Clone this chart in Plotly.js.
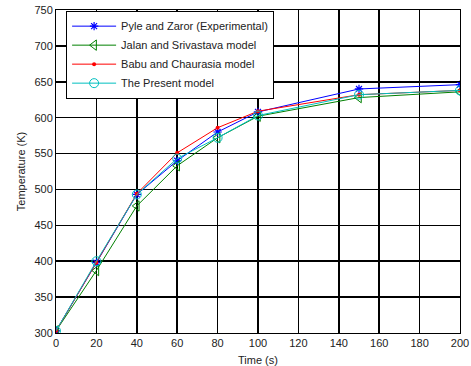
<!DOCTYPE html>
<html>
<head>
<meta charset="utf-8">
<script src="https://cdn.plot.ly/plotly-3.0.1.min.js"></script>
<style>html,body{margin:0;padding:0;background:#fff;}#chart{width:471px;height:366px;}</style>
</head>
<body>
<div id="chart"></div>
<script>
const time = [0, 20, 40, 60, 80, 100, 150, 200];
const pyleZaror = [303, 398, 493, 540, 580, 608, 640, 646];
const jalanSrivastava = [303, 387, 477, 533, 572, 602, 628, 636];
const babuChaurasia = [303, 398, 494, 551, 586, 609, 632, 638];
const presentModel = [303, 400, 493, 543, 572, 603, 632, 638];
const seriesNames = ["Pyle and Zaror (Experimental)", "Jalan and Srivastava model", "Babu and Chaurasia model", "The Present model"];
const xTicks = [0, 20, 40, 60, 80, 100, 120, 140, 160, 180, 200];
const yTicks = [300, 350, 400, 450, 500, 550, 600, 650, 700, 750];

const font = {family: "Liberation Sans, Arial, sans-serif", size: 11, color: "#222"};
const traces = [
  {x: time, y: pyleZaror, name: seriesNames[0], mode: "lines+markers",
   line: {color: "#0000FF", width: 1}, marker: {symbol: "asterisk-open", size: 7, line: {color: "#0000FF", width: 1.2}, color: "#0000FF"}},
  {x: time, y: jalanSrivastava, name: seriesNames[1], mode: "lines+markers",
   line: {color: "#008000", width: 1}, marker: {symbol: "triangle-left-open", size: 9, line: {color: "#008000", width: 1}, color: "#008000"}},
  {x: time, y: babuChaurasia, name: seriesNames[2], mode: "lines+markers",
   line: {color: "#FF0000", width: 1}, marker: {symbol: "circle", size: 4, color: "#FF0000"}},
  {x: time, y: presentModel, name: seriesNames[3], mode: "lines+markers",
   line: {color: "#00BFBF", width: 1}, marker: {symbol: "circle-open", size: 9, line: {color: "#00BFBF", width: 1}, color: "#00BFBF"}}
];

const axisCommon = {
  showline: true, mirror: "ticks", linecolor: "#000", linewidth: 1,
  ticks: "inside", ticklen: 4, tickcolor: "#000",
  showgrid: true, gridcolor: "#000", gridwidth: 1.6,
  zeroline: false, tickfont: font
};

const layout = {
  width: 471, height: 366,
  margin: {l: 56, r: 11, t: 10, b: 33},
  paper_bgcolor: "#fff", plot_bgcolor: "#fff",
  font: font,
  showlegend: true,
  legend: {x: 0.025, y: 0.998, xanchor: "left", yanchor: "top", bgcolor: "#fff",
    bordercolor: "#000", borderwidth: 1, font: {family: font.family, size: 11, color: "#222"},
    itemwidth: 44, tracegroupgap: 0},
  xaxis: Object.assign({}, axisCommon, {range: [0, 200], tickvals: xTicks,
    title: {text: "Time (s)", font: font, standoff: 8}}),
  yaxis: Object.assign({}, axisCommon, {range: [300, 750], tickvals: yTicks,
    title: {text: "Temperature (K)", font: font, standoff: 6}})
};

Plotly.newPlot("chart", traces, layout, {displayModeBar: false, staticPlot: true});
</script>
</body>
</html>
